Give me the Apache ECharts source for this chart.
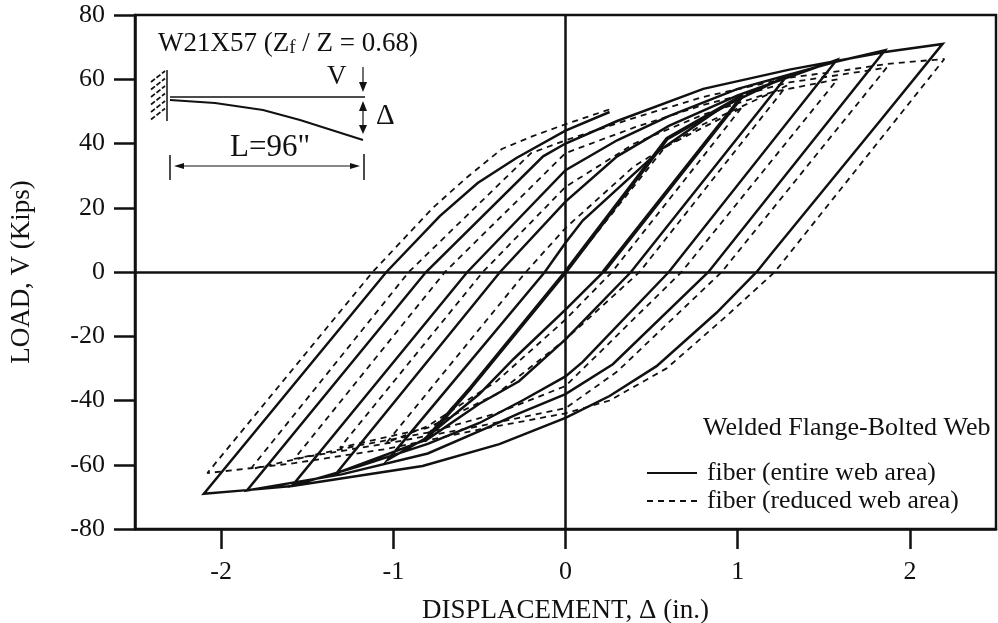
<!DOCTYPE html>
<html><head><meta charset="utf-8">
<style>html,body{margin:0;padding:0;background:#fff}#c{width:998px;height:623px}</style>
<script src="https://cdn.jsdelivr.net/npm/echarts@6/dist/echarts.min.js"></script>
</head><body><div id="c"></div>
<script>
const xTicks = [-2,-1,0,1,2];
const solidName = 'fiber (entire web area)';
const dashedName = 'fiber (reduced web area)';
const solidPath = [
 [1.03,55],[.22,0],[0,-11.7],[-.3,-27],[-.5,-38],[-.82,-52],[-1.03,-58.4],
 [-.12,0],[0,9.1],[.1,16],[.55,38],[.9,51],[1.285,61],
 [.38,0],[0,-21],[-.27,-34],[-.5,-41],[-.8,-52],[-1.33,-62.6],
 [-.38,0],[0,21.9],[.3,36],[.6,45.5],[1.0,55],[1.575,66],
 [.6,0],[.1,-28],[0,-32.5],[-.25,-40],[-.5,-47],[-.8,-53.5],[-1.2,-60.5],[-1.587,-66.5],
 [-.57,0],[0,31.7],[.3,41],[.6,48.5],[1.0,57],[1.575,65.5],[1.855,69],
 [.83,0],[.275,-28.7],[0,-38],[-.27,-44],[-.46,-48.6],[-.8,-56.5],[-1.3,-63],[-1.85,-68],
 [-.81,0],[-.13,36],[0,40],[.3,47],[.8,57],[1.3,63],[1.855,68.5],[2.19,71],
 [1.826,47],[1.2,6],[1.11,0],[.877,-12.7],[.529,-29.3],[.256,-38.6],[0,-45.4],
 [-.384,-53.6],[-.83,-60.4],[-1.587,-66.6],[-1.85,-67.9],[-2.1,-69],
 [-1.04,0],[-.73,17.4],[-.51,27.7],[-.285,35.5],[0,44],[.256,49.8]
];
const solidElastic = [[-.82,-52.6],[-.55,-36],[0,0],[.59,41.5],[1.03,55],[.22,0]];
const dashedPath = [
 [1.02,51],[.27,0],[0,-14.8],[-.4,-34],[-.8,-48],[-1.04,-53.2],
 [-.23,0],[0,13.7],[.4,33],[.8,46],[1.285,58],
 [.43,0],[0,-21],[-.4,-38],[-.8,-48.5],[-1.31,-54.7],
 [-.48,0],[0,26.5],[.4,40],[.8,49],[1.2,56],[1.58,60],
 [.674,0],[0,-35.5],[-.4,-44],[-.8,-50],[-1.2,-54],[-1.575,-58.2],
 [-.7,0],[0,37],[.4,45],[.8,52],[1.3,59],[1.865,63.6],
 [.907,0],[.3,-31],[0,-42.4],[-.5,-48],[-1,-53],[-1.5,-57.5],[-1.83,-61.4],
 [-.91,0],[-.2,37],[0,41],[.4,48],[.8,54.5],[1.3,60.5],[1.6,62.6],[1.87,64.8],[2.2,66.3],
 [1.215,0],[.935,-13.7],[.587,-30],[.256,-40],[0,-44],[-.5,-49],[-1.03,-55],[-1.575,-59.5],[-2.08,-62.6],
 [-1.12,0],[-.77,20],[-.576,29.3],[-.37,38.3],[-.19,42.3],[0,46],[.26,50.7]
];
const dashedElastic = [[-.8,-50.5],[-.5,-33],[0,0],[.58,39],[1.02,51]];

const F = '"Liberation Serif","Times New Roman",serif';
const K = '#111';
const chart = echarts.init(document.getElementById('c'), null, {renderer:'canvas'});
function text(x,y,t,size,extra){return {type:'text',x,y,silent:true,style:Object.assign({text:t,font:size+'px '+F,fill:K,textVerticalAlign:'middle',textAlign:'left'},extra||{})};}
function seg(x1,y1,x2,y2,w,extra){return {type:'line',silent:true,shape:{x1,y1,x2,y2},style:Object.assign({stroke:K,lineWidth:w||1},extra||{})};}
function tri(pts){return {type:'polygon',silent:true,shape:{points:pts},style:{fill:K}};}
const hatch=[];
for(let i=0;i<6;i++){hatch.push(seg(151,82+i*7.5,165,71+i*7.5,1.8,{lineDash:[5,2]}));}
chart.setOption({
 animation:false,
 backgroundColor:'#fff',
 grid:{left:135,right:2,top:15,bottom:94,outerBoundsMode:'none',show:true,borderColor:K,borderWidth:2.5,backgroundColor:'transparent'},
 legend:{
  data:[{name:solidName},{name:dashedName}],orient:'vertical',left:641,top:454,itemWidth:50,itemHeight:10,itemGap:0,
  itemStyle:{opacity:0},
  textStyle:{fontFamily:F,fontSize:25.7,color:K,padding:[0,0,0,5],lineHeight:28},selectedMode:false
 },
 xAxis:{type:'value',min:-2.5,max:2.5,
  name:'DISPLACEMENT, Δ (in.)',nameLocation:'middle',nameGap:68,nameTextStyle:{fontFamily:F,fontSize:27,color:K},
  axisLine:{lineStyle:{color:K,width:2.5},onZero:false},
  axisTick:{show:true,length:20,inside:false,lineStyle:{color:K,width:2.5},customValues:xTicks},
  axisLabel:{fontFamily:F,fontSize:26,color:K,margin:30,customValues:xTicks,formatter:v=>String(v)},
  splitLine:{show:false}},
 yAxis:{type:'value',min:-80,max:80,interval:20,
  name:'LOAD, V (Kips)',nameLocation:'middle',nameGap:100,nameTextStyle:{fontFamily:F,fontSize:27,color:K},
  axisLine:{lineStyle:{color:K,width:2.5},onZero:false},
  axisTick:{length:21,lineStyle:{color:K,width:2.5}},
  axisLabel:{fontFamily:F,fontSize:26,color:K,margin:30},
  splitLine:{show:false}},
 series:[
  {name:solidName,type:'line',data:solidPath,symbol:'none',smooth:false,clip:true,lineStyle:{color:K,width:2.5,join:'miter'},z:3,
   markLine:{silent:true,symbol:'none',label:{show:false},animation:false,lineStyle:{color:K,width:2.5,type:'solid'},data:[{xAxis:0},{yAxis:0}]}},
  {name:'elastic solid',type:'line',data:solidElastic,symbol:'none',lineStyle:{color:K,width:3.8},z:3},
  {name:dashedName,type:'line',data:dashedPath,symbol:'none',smooth:false,lineStyle:{color:K,width:1.8,type:[6,5]},z:2},
  {name:'elastic dashed',type:'line',data:dashedElastic,symbol:'none',lineStyle:{color:K,width:1.8,type:[6,5]},z:2}
 ],
 graphic:{elements:[
  {type:'group',silent:true,children:[
   {type:'text',x:158,y:44,style:{rich:{a:{font:'27px '+F,fill:K},s:{font:'19px '+F,fill:K,padding:[8,0,0,0]}},text:'{a|W21X57 (Z}{s|f}{a| / Z = 0.68)}',textVerticalAlign:'middle'}},
   seg(167,70,167,121,1.5),...hatch,
   seg(170,97,365,97,1.5),
   {type:'polyline',silent:true,shape:{points:[[170,100],[215,103],[263,110],[300,120],[363,140]]},style:{stroke:K,lineWidth:2,fill:'none'}},
   text(327,77,'V',27),
   seg(363,67,363,85,1.2),tri([[359,82],[367,82],[363,92]]),
   seg(363,108,363,128,1.2),tri([[359,111],[367,111],[363,101]]),tri([[359,125],[367,125],[363,134]]),
   text(376,116,'Δ',29),
   text(230,148,'L=96"',31),
   seg(170,155,170,180,1.5),seg(364,154,364,180,1.5),seg(180,166,355,166,1.2),
   tri([[174,166],[184,163],[184,169]]),tri([[360,166],[350,163],[350,169]]),
   text(703,428,'Welded Flange-Bolted Web',26)
  ]}
 ]}
});
</script></body></html>
